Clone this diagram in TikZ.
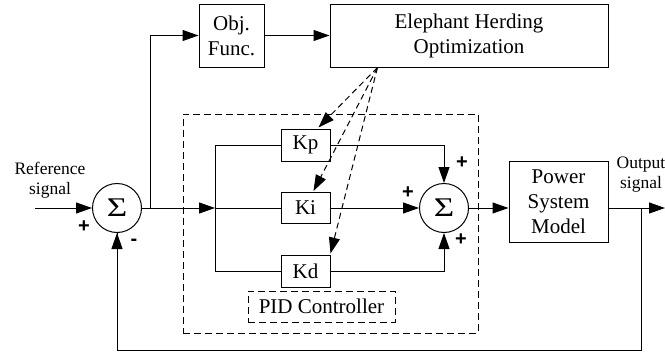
\documentclass[tikz,border=0pt]{standalone}
\usepackage{fontspec}
\setmainfont{Liberation Serif}
\newfontfamily\signfont{Liberation Sans}
\usetikzlibrary{arrows.meta,calc}
\begin{document}
\begin{tikzpicture}[x=1pt,y=-1pt,
  line width=1pt,
  >={Triangle[length=16pt,width=11pt]},
  blk/.style={draw,inner sep=0pt,align=center,font=\fontsize{21}{25}\selectfont},
  sumc/.style={draw,circle,minimum size=49pt,inner sep=0pt},
  sig/.style={inner sep=0pt,font=\fontsize{27}{27}\selectfont,transform shape,xscale=1.3},
  lbl/.style={align=center,inner sep=0pt,font=\fontsize{17.5}{20}\selectfont},
  sgn/.style={inner sep=0pt,font=\signfont\bfseries\fontsize{20}{20}\selectfont},
  dsh/.style={dash pattern=on 7pt off 4pt},
  dar/.style={->,dash pattern=on 6pt off 4pt}]
\useasboundingbox (0,0) rectangle (665,356);
% nodes
\node[blk,minimum width=65pt,minimum height=63pt] (objf) at (231.5,35.5) {Obj.\\Func.};
\node[blk,minimum width=278pt,minimum height=63pt] (eho) at (469,35.5) {Elephant Herding\\Optimization};
\node[sumc] (s1) at (117,208) {};
\node[sumc] (s2) at (444,208) {};
\node[sig] (s1t) at (s1.center) {Σ};
\node[sig] (s2t) at (s2.center) {Σ};
\node[blk,minimum width=49pt,minimum height=32pt] (kp) at (305.5,145) {Kp};
\node[blk,minimum width=49pt,minimum height=31pt] (ki) at (305.5,208) {Ki};
\node[blk,minimum width=49pt,minimum height=32pt] (kd) at (305.5,271) {Kd};
\node[blk,dsh,minimum width=147pt,minimum height=31pt] (pidl) at (321.5,306.5) {PID Controller};
\node[draw,dsh,inner sep=0pt,minimum width=295pt,minimum height=219pt] (pid) at (330.5,223.5) {};
\node[blk,minimum width=99pt,minimum height=81pt] (psm) at (558.5,201.5) {Power\\System\\Model};
\node[lbl] (ref) at (50,180) {Reference\\signal};
\node[lbl] (out) at (641,175) {Output\\signal};
% coordinates
\coordinate (in) at (35,208);
\coordinate (br) at (150,208);
\coordinate (jn) at (215,208);
\coordinate (oend) at (665,208);
\coordinate (fb) at (641,208);
\coordinate (fbb) at (641,350);
\coordinate (eo) at ($(eho.south west)+(48,0)$);
% signs
\node[sgn] at (84,227) {+};
\node[sgn] at (134,242) {-};
\node[sgn] at (462,163) {+};
\node[sgn] at (408,193) {+};
\node[sgn] at (461,240) {+};
% connectors
\draw[->] (in) -- (s1.west);
\draw[->] (s1.east) -- (jn);
\draw[->] (br) |- (objf.west);
\draw[->] (objf.east) -- (eho.west);
\draw (jn) -- (ki.west);
\draw (jn |- kp.west) -- (jn |- kd.west);
\draw (jn |- kp.west) -- (kp.west);
\draw (jn |- kd.west) -- (kd.west);
\draw[->] (kp.east) -| (s2.north);
\draw[->] (kd.east) -| (s2.south);
\draw[->] (ki.east) -- (s2.west);
\draw[->] (s2.east) -- (s2.east -| psm.west);
\draw[->] (psm.east |- oend) -- (oend);
\draw (fb) -- (fbb) -| (s1.south);
\draw[->] (fbb -| s1.south) -- (s1.south);
\draw[dar] (eo) -- ($(kp.north east)+(-12,-1)$);
\draw[dar] (eo) -- ($(ki.north east)+(-17,-1)$);
\draw[dar] (eo) -- ($(kd.north east)+(0,-1)$);
\end{tikzpicture}
\end{document}
